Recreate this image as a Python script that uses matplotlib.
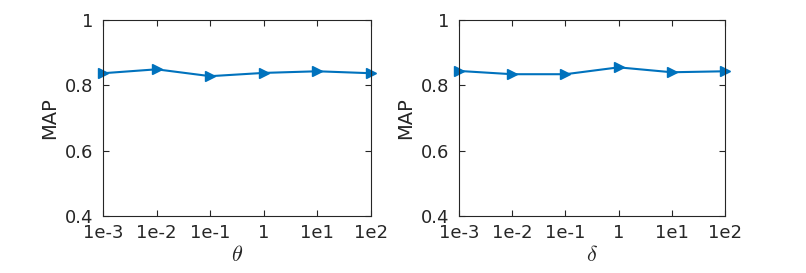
import matplotlib
matplotlib.use("Agg")
import matplotlib.pyplot as plt

xlabels = ["1e-3", "1e-2", "1e-1", "1", "1e1", "1e2"]
theta_map = [0.837, 0.849, 0.828, 0.838, 0.843, 0.837]
delta_map = [0.844, 0.834, 0.834, 0.855, 0.840, 0.843]
yticks = [0.4, 0.6, 0.8, 1.0]
yticklabels = ["0.4", "0.6", "0.8", "1"]

plt.rcParams['font.family'] = ['DejaVu Sans']
plt.rcParams['mathtext.fontset'] = 'cm'
txt = '#262626'
blue = '#0072BD'

fig = plt.figure(figsize=(8.06, 2.73), dpi=100)
axes = [fig.add_axes([0.1278, 0.2088, 0.3325, 0.718]),
        fig.add_axes([0.5695, 0.2088, 0.330, 0.718])]
data = [theta_map, delta_map]
names = [r'$\theta$', r'$\delta$']
for ax, d, nm in zip(axes, data, names):
    x = list(range(len(xlabels)))
    ax.plot(x, d, color=blue, marker='>', markersize=6.5, linewidth=1.5,
            markerfacecolor=blue, markeredgecolor=blue, clip_on=False)
    ax.set_xlim(0, len(xlabels) - 1)
    ax.set_ylim(0.4, 1.0)
    ax.set_xticks(x)
    ax.set_xticklabels(xlabels)
    ax.set_yticks(yticks)
    ax.set_yticklabels(yticklabels)
    ax.tick_params(direction='in', top=True, right=True, length=4,
                   labelsize=13, colors=txt, width=0.8)
    ax.tick_params(axis='x', pad=6)
    ax.tick_params(axis='y', pad=7)
    for s in ax.spines.values():
        s.set_color(txt)
        s.set_linewidth(0.8)
    ax.set_ylabel('MAP', fontsize=14, color=txt, labelpad=4)
    ax.set_xlabel(nm, fontsize=16, color=txt, labelpad=2)

fig.savefig('out.png', dpi=100)
